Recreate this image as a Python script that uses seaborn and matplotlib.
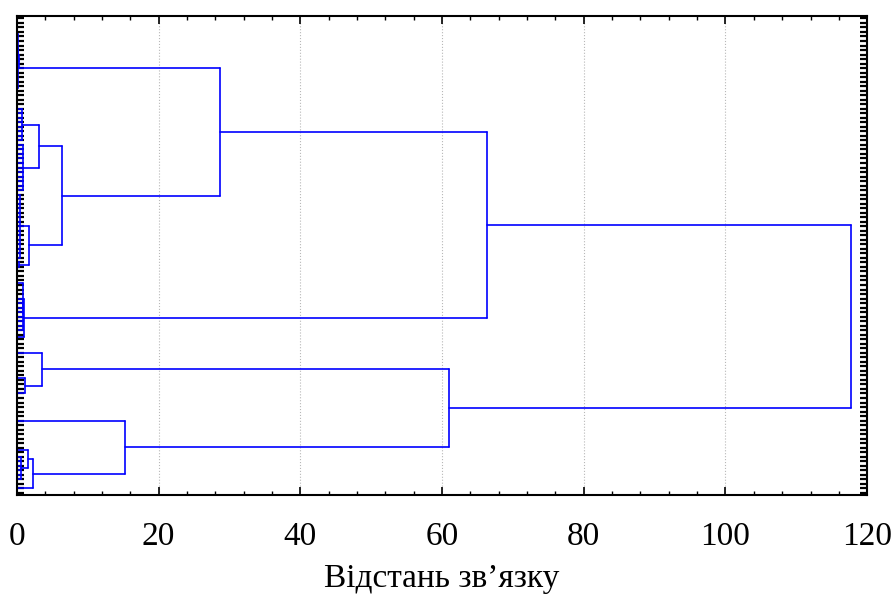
import numpy as np
import pandas as pd
import matplotlib
matplotlib.use("Agg")
import matplotlib.pyplot as plt
from matplotlib.ticker import MultipleLocator
import seaborn as sns

########### Datos del dendrograma ###########
# grupos de hojas (de arriba hacia abajo): numero de hojas y distancia de union
bundle_sizes = [8, 4, 8, 8, 11, 15, 2, 6, 8, 2, 5, 6, 1, 11, 2, 6, 3]
bundle_dist = [0.0, 0.3, 0.0, 0.7, 0.9, 0.4, 0.3, 0.0, 0.8, 0.0, 0.0, 0.0, 0.0, 0.0, 0.0, 0.5, 0.0]

# uniones: ids 0..16 son grupos, 17.. son uniones anteriores
join_left = [0, 17, 3, 5, 19, 18, 7, 23, 22, 11, 10, 14, 28, 13, 27, 25]
join_right = [1, 2, 4, 6, 20, 21, 8, 9, 24, 12, 26, 15, 16, 29, 30, 31]
join_dist = [0.15, 0.2, 3.1, 1.7, 6.35, 28.7, 0.85, 0.95, 66.35, 1.1, 3.55, 1.55, 2.2, 15.25, 61.0, 117.75]

x_label = 'Відстань зв’язку'

########### Segmentos del arbol ###########
segs = []
pos, height = [], []
start = 1
for n, d in zip(bundle_sizes, bundle_dist):
    leaves = np.arange(start, start + n)
    if d > 0:
        for lf in leaves:
            segs.append(([0, d], [lf, lf]))
        segs.append(([d, d], [leaves[0], leaves[-1]]))
    pos.append(leaves.mean())
    height.append(d)
    start += n
n_leaves = start - 1

for a, b, d in zip(join_left, join_right, join_dist):
    for c in (a, b):
        segs.append(([height[c], d], [pos[c], pos[c]]))
    segs.append(([d, d], [pos[a], pos[b]]))
    pos.append((pos[a] + pos[b]) / 2)
    height.append(d)

rows = []
for i, (xs, ys) in enumerate(segs):
    for x, y in zip(xs, ys):
        rows.append({'seg': i, 'dist': x, 'leaf': y})
df = pd.DataFrame(rows)

############ Grafica ############
sns.set_style("white")
plt.rcParams['font.family'] = ['Liberation Serif', 'DejaVu Serif']
fig = plt.figure(figsize=(8.94, 5.98), dpi=100)
ax = fig.add_axes([0.019, 0.172, 0.951, 0.801])

ax.grid(axis='x', which='major', color='#b8b8b8', linestyle=':', linewidth=0.8)
ax.set_axisbelow(True)
sns.lineplot(data=df, x='dist', y='leaf', units='seg', estimator=None, sort=False,
             color='#0000ff', linewidth=1.2, ax=ax, legend=False)

ax.set_xlim(0, 120)
ax.set_ylim(n_leaves + 0.5, 0.5)
ax.xaxis.set_major_locator(MultipleLocator(20))
ax.xaxis.set_minor_locator(MultipleLocator(4))
ax.set_yticks(np.arange(1, n_leaves + 1))
ax.set_yticklabels([])
ax.tick_params(axis='x', which='major', direction='in', length=6, width=1.2,
               top=True, bottom=True, labelsize=24, pad=19, colors='black')
ax.tick_params(axis='x', which='minor', direction='in', length=3, width=1.0,
               top=True, bottom=True, colors='black')
ax.tick_params(axis='y', which='major', direction='in', length=5, width=1.6,
               left=True, right=True, colors='black')
for s in ax.spines.values():
    s.set_linewidth(1.5)
    s.set_color('black')

ax.set_ylabel('')
ax.set_xlabel(x_label, fontsize=24, labelpad=8, color='black')

plt.savefig('out.png', dpi=100)
